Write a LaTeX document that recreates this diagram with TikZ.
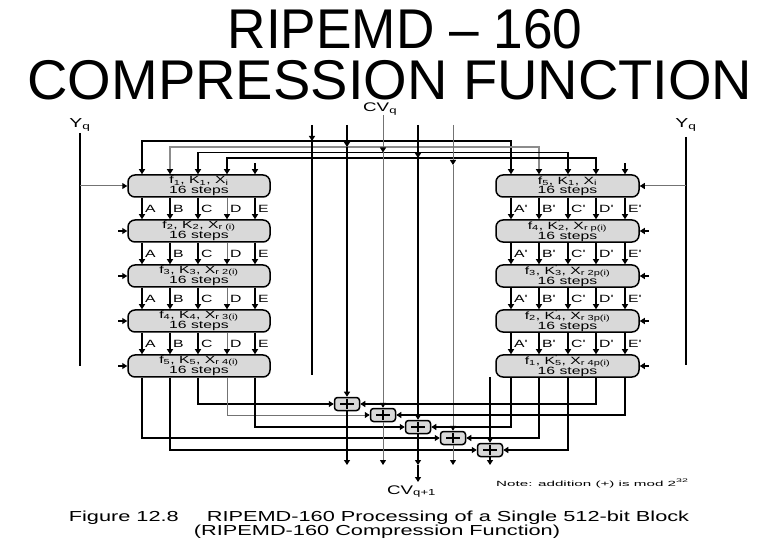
\documentclass[tikz,border=0pt]{standalone}
\usepackage{fontspec}
\usepackage{graphicx}
\setmainfont{Liberation Sans}
\newfontfamily\dgf[FakeStretch=1.5]{Liberation Sans}
\usetikzlibrary{arrows.meta,calc}
\newcommand{\kpr}[1]{K\rlap{\raisebox{3.5pt}{\fontsize{8}{8}\selectfont\textquotesingle}}\textsubscript{#1}}
\newcommand{\bxt}[2]{\raisebox{-1.5pt}{\begin{tabular}{@{}c@{}}#1\\[-0.5pt]#2\end{tabular}}}
\begin{document}
\begin{tikzpicture}[x=1pt,y=-1pt,
  >={Triangle[width=6pt,length=5pt,color=black]},
  ln/.style={line width=1.2pt,draw=black},
  lnthick/.style={line width=2pt,draw=black},
  lngray/.style={line width=1pt,draw=black!55},
  lngraythick/.style={line width=2.2pt,draw=black!45},
  blk/.style={draw=black,line width=1.5pt,fill=black!15,rounded corners=7pt,
    minimum width=142pt,minimum height=22pt,inner sep=0pt,
    font=\dgf\fontsize{10.5}{10}\selectfont},
  adder/.style={draw=black,line width=1.5pt,fill=black!15,rounded corners=3pt,
    minimum width=25pt,minimum height=13pt,inner sep=0pt},
  lab/.style={font=\dgf\fontsize{10.5}{10}\selectfont,anchor=west,inner sep=0pt},
  txt/.style={inner sep=0pt,anchor=base},
]
\fill[white] (0,0) rectangle (780,540);
\useasboundingbox (0,0) rectangle (780,540);

% titles
\node[txt,font=\fontsize{56}{56}\selectfont] (t1) at (405,49) {\scalebox{0.95}[1]{RIPEMD – 160}};
\node[txt,font=\fontsize{56}{56}\selectfont] (t2) at (390,100) {COMPRESSION FUNCTION};

% column and level coordinates
\foreach \n/\x in {lA/142,lB/170,lC/198,lD/227,lE/255,rA/511,rB/539,rC/568,rD/596,rE/625}
  \coordinate (\n) at (\x,0);
\coordinate (yA) at (0,141);
\coordinate (yB) at (0,147);
\coordinate (yC) at (0,152.5);
\coordinate (yD) at (0,158);
\coordinate (yE) at (0,165);

% boxes
\node[blk] (L1) at (199,186) {\bxt{f\textsubscript{1}, K\textsubscript{1}, X\textsubscript{i}}{16 steps}};
\node[blk] (L2) at (199,231) {\bxt{f\textsubscript{2}, K\textsubscript{2}, X\textsubscript{r (i)}}{16 steps}};
\node[blk] (L3) at (199,276) {\bxt{f\textsubscript{3}, K\textsubscript{3}, X\textsubscript{r 2(i)}}{16 steps}};
\node[blk] (L4) at (199,321) {\bxt{f\textsubscript{4}, K\textsubscript{4}, X\textsubscript{r 3(i)}}{16 steps}};
\node[blk] (L5) at (199,366) {\bxt{f\textsubscript{5}, K\textsubscript{5}, X\textsubscript{r 4(i)}}{16 steps}};
\node[blk,minimum width=143pt] (R1) at (567.5,186) {\bxt{f\textsubscript{5}, \kpr{1}, X\textsubscript{i}}{16 steps}};
\node[blk,minimum width=143pt] (R2) at (567.5,231) {\bxt{f\textsubscript{4}, \kpr{2}, X\textsubscript{r p(i)}}{16 steps}};
\node[blk,minimum width=143pt] (R3) at (567.5,276) {\bxt{f\textsubscript{3}, \kpr{3}, X\textsubscript{r 2p(i)}}{16 steps}};
\node[blk,minimum width=143pt] (R4) at (567.5,321) {\bxt{f\textsubscript{2}, \kpr{4}, X\textsubscript{r 3p(i)}}{16 steps}};
\node[blk,minimum width=143pt] (R5) at (567.5,366) {\bxt{f\textsubscript{1}, \kpr{5}, X\textsubscript{r 4p(i)}}{16 steps}};

% arrows between boxes
\foreach \a/\b in {1/2,2/3,3/4,4/5}{
  \foreach \c/\w/\col in {lA/1.2/black,lB/2/black,lC/1.2/black,lD/1/black!55,lE/1.2/black,
                          rA/1.5/black,rB/1.2/black,rC/1.2/black,rD/1.2/black,rE/1.2/black}
    \draw[->,line width=\w pt,draw=\col] (L\a.south -| \c) -- (L\b.north -| \c);
}
% labels between boxes
\foreach \k/\y in {1/208.5,2/253.5,3/298.5,4/343.5}{
  \foreach \c/\t in {lA/A,lB/B,lC/C,lD/D,lE/E}
    \node[lab] (lab\c\k) at ($(\c)+(3,\y)$) {\t};
  \foreach \c/\t in {rA/A,rB/B,rC/C,rD/D,rE/E}
    \node[lab] (lab\c\k) at ($(\c)+(3,\y)$) {\t\textquotesingle};
}

% side inputs
\coordinate (yl1) at (80,133);
\coordinate (yl2) at (80,366);
\coordinate (yr1) at (686,137);
\coordinate (yr2) at (686,365);
\draw[lnthick] (yl1) -- (yl2);
\draw[line width=1.5pt] (yr1) -- (yr2);
\draw[->,lngray] (yl1 |- L1.west) -- (L1.west);
\draw[->,lngray] (yr1 |- R1.east) -- (R1.east);
\foreach \i in {2,...,5}{
  \draw[->,ln] ($(L\i.west)+(-9,0)$) -- (L\i.west);
  \draw[->,ln] ($(R\i.east)+(9,0)$) -- (R\i.east);
}
\node[txt,font=\dgf\fontsize{13}{13}\selectfont] (Yql) at (80,128) {Y\textsubscript{q}};
\node[txt,font=\dgf\fontsize{13}{13}\selectfont] (Yqr) at (686,128) {Y\textsubscript{q}};

% CVq distribution
\node[txt,anchor=base west,font=\dgf\fontsize{12.5}{12.5}\selectfont] (CVq) at (363,112) {CV\textsubscript{q}};
\draw[<->,ln] (L1.north -| lA) -- (lA |- yA) -- (rA |- yA) -- (R1.north -| rA);
\draw[<->,lngraythick] (L1.north -| lB) -- (lB |- yB) -- (rB |- yB) -- (R1.north -| rB);
\draw[<->,ln] (L1.north -| lC) -- (lC |- yC) -- (rC |- yC) -- (R1.north -| rC);
\draw[<->,ln] (L1.north -| lD) -- (lD |- yD) -- (rD |- yD) -- (R1.north -| rD);
\draw[->,ln] ($(L1.north -| lE)+(0,-11)$) -- (L1.north -| lE);
\draw[->,ln] ($(R1.north -| rE)+(0,-11)$) -- (R1.north -| rE);

% adders
\node[adder] (S1) at (347,404) {};
\node[adder] (S2) at (383,415) {};
\node[adder] (S3) at (418,427) {};
\node[adder] (S4) at (453,438) {};
\node[adder] (S5) at (490,450) {};

% chaining variables from the top
\coordinate (h0t) at (312,125);
\coordinate (h1t) at (347,125);
\coordinate (h2t) at (383,115);
\coordinate (h3t) at (418,125);
\coordinate (h4t) at (453,125);
\coordinate (h0e) at (312,375);
\coordinate (h0s) at (490,377);
\draw[->,line width=1.3pt] (h0t) -- (h0t |- yA);
\draw[line width=1.3pt] (h0t |- yA) -- (h0e);
\draw[->,lnthick] (h1t) -- (h1t |- yB);
\draw[->,lnthick] (h1t |- yB) -- (S1.north);
\draw[->,lngray] (h2t) -- (h2t |- yC);
\draw[->,lngray] (h2t |- yC) -- (S2.north);
\draw[->,line width=1.6pt] (h3t) -- (h3t |- yD);
\draw[->,line width=1.6pt] (h3t |- yD) -- (S3.north);
\draw[->,lngray] (h4t) -- (h4t |- yE);
\draw[->,lngray] (h4t |- yE) -- (S4.north);
\draw[->,ln] (h0s) -- (S5.north);

% adder inputs from the two lines
\draw[->,ln] (L5.south -| lC) |- (S1.west);
\draw[->,lngray] (L5.south -| lD) |- (S2.west);
\draw[->,ln] (L5.south -| lE) |- (S3.west);
\draw[->,ln] (L5.south -| lA) |- (S4.west);
\draw[->,lnthick] (L5.south -| lB) |- (S5.west);
\draw[->,ln] (R5.south -| rD) |- (S1.east);
\draw[->,ln] (R5.south -| rE) |- (S2.east);
\draw[->,ln] (R5.south -| rA) |- (S3.east);
\draw[->,ln] (R5.south -| rB) |- (S4.east);
\draw[->,ln] (R5.south -| rC) |- (S5.east);

% plus signs
\foreach \i in {1,...,5}{
  \draw[line width=1.6pt] ($(S\i.center)+(-7,0)$) -- ($(S\i.center)+(7,0)$);
  \draw[line width=1.6pt] ($(S\i.center)+(0,-5)$) -- ($(S\i.center)+(0,5)$);
}

% outputs
\coordinate (o1) at (347,465);
\coordinate (o2) at (383,465);
\coordinate (o3) at (418,465);
\coordinate (o3b) at (418,482);
\coordinate (o4) at (453,465);
\coordinate (o5) at (490,465);
\draw[->,ln] (S1.south) -- (o1);
\draw[->,lngray] (S2.south) -- (o2);
\draw[->,line width=1.3pt] (S3.south) -- (o3);
\draw[->,line width=1.3pt] (o3) -- (o3b);
\draw[->,lngray] (S4.south) -- (o4);
\draw[->,lnthick] (S5.south) -- (o5);
\node[txt,anchor=base west,font=\dgf\fontsize{12.5}{12.5}\selectfont] (CVq1) at (387,494) {CV\textsubscript{q+1}};

% note and caption
\node[txt,anchor=base west,font=\dgf\fontsize{7.5}{7.5}\selectfont] (note) at (496,486)
  {\scalebox{1.35}[1]{Note: addition (+) is mod 2\textsuperscript{32}}};
\node[txt,font=\dgf\fontsize{14.5}{14.5}\selectfont] (cap1) at (379,521)
  {Figure 12.8\hspace{28pt}RIPEMD-160 Processing of a Single 512-bit Block};
\node[txt,font=\dgf\fontsize{14.5}{14.5}\selectfont] (cap2) at (377,535)
  {(RIPEMD-160 Compression Function)};
\end{tikzpicture}
\end{document}
